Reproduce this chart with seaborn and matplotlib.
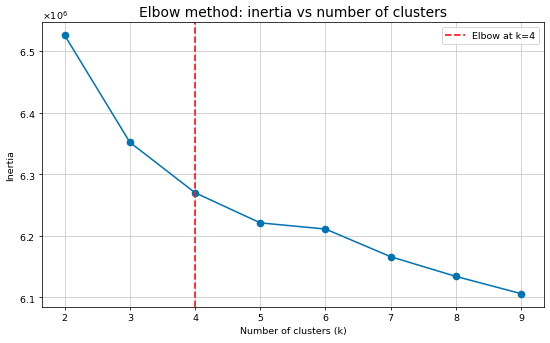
import matplotlib
matplotlib.use("Agg")
import matplotlib.pyplot as plt
import seaborn as sns
import pandas as pd

# Inertia values per number of clusters
ks = [2, 3, 4, 5, 6, 7, 8, 9]
inertia = [6.526e6, 6.352e6, 6.270e6, 6.221e6, 6.211e6, 6.166e6, 6.134e6, 6.106e6]
elbow_k = 4

df = pd.DataFrame({"k": ks, "inertia": inertia})

fig, ax = plt.subplots(figsize=(8, 5), dpi=68.75)
sns.lineplot(data=df, x="k", y="inertia", marker="o", markersize=8,
             markeredgewidth=0, linewidth=1.6, color="#0173b2", ax=ax)
ax.axvline(elbow_k, color="#ff1a1a", linestyle="--", linewidth=1.8,
           label=f"Elbow at k={elbow_k}")
ax.set_title("Elbow method: inertia vs number of clusters", fontsize=14.5)
ax.set_xlabel("Number of clusters (k)")
ax.set_ylabel("Inertia")
ax.set_xticks(ks)
ax.ticklabel_format(axis="y", style="sci", scilimits=(0, 0), useMathText=True)
ax.grid(True, color="#c8c8c8")
ax.legend(loc="upper right")
fig.subplots_adjust(left=0.076, right=0.989, top=0.933, bottom=0.106)
plt.savefig("out.png", dpi=68.75)
